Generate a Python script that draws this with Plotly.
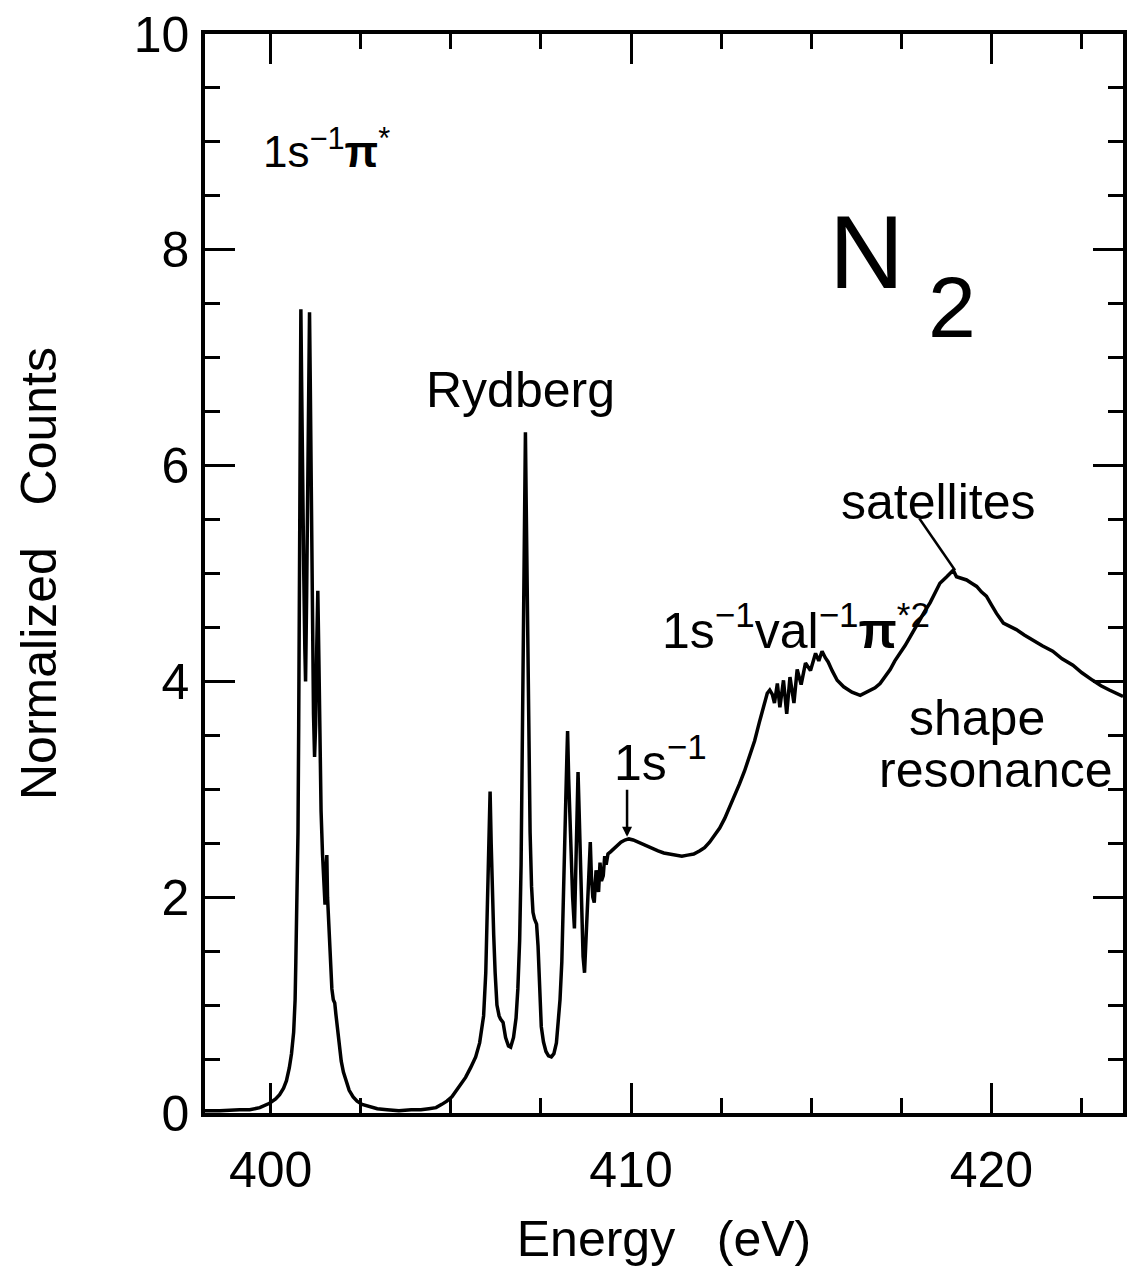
import plotly.graph_objects as go

# N2 K-edge photoabsorption spectrum: photon energy (eV) and normalized counts
energy_ev = [
    398.18, 398.59, 399.14, 399.42, 399.70, 399.97, 400.14, 400.25, 400.36, 400.44,
    400.52, 400.58, 400.64, 400.68, 400.70, 400.73, 400.76, 400.78, 400.80, 400.82,
    400.84, 400.86, 400.88, 400.89, 400.92, 400.95, 400.97, 401.00, 401.03, 401.05,
    401.08, 401.10, 401.13, 401.16, 401.19, 401.22, 401.25, 401.28, 401.31, 401.34,
    401.37, 401.40, 401.44, 401.48, 401.51, 401.53, 401.56, 401.58, 401.62, 401.66,
    401.70, 401.74, 401.78, 401.81, 401.85, 401.91, 401.96, 402.02, 402.10, 402.18,
    402.29, 402.40, 402.54, 402.73, 402.96, 403.23, 403.56, 403.90, 404.17, 404.39,
    404.59, 404.75, 404.89, 405.03, 405.22, 405.41, 405.55, 405.69, 405.80, 405.91,
    405.97, 406.01, 406.03, 406.07, 406.09, 406.12, 406.15, 406.19, 406.23, 406.28,
    406.34, 406.38, 406.45, 406.52, 406.60, 406.66, 406.74, 406.81, 406.86, 406.91,
    406.95, 406.98, 407.01, 407.03, 407.05, 407.07, 407.09, 407.11, 407.13, 407.17,
    407.20, 407.24, 407.28, 407.32, 407.38, 407.42, 407.46, 407.51, 407.57, 407.64,
    407.71, 407.79, 407.86, 407.93, 407.98, 408.03, 408.08, 408.12, 408.15, 408.19,
    408.22, 408.24, 408.27, 408.30, 408.34, 408.38, 408.43, 408.46, 408.50, 408.53,
    408.56, 408.60, 408.63, 408.67, 408.71, 408.74, 408.78, 408.83, 408.87, 408.90,
    408.94, 408.98, 409.03, 409.06, 409.10, 409.14, 409.18, 409.23, 409.27, 409.31,
    409.36, 409.43, 409.53, 409.61, 409.72, 409.83, 409.94, 410.06, 410.19, 410.33,
    410.47, 410.61, 410.75, 410.91, 411.08, 411.24, 411.41, 411.57, 411.74, 411.91,
    412.04, 412.18, 412.32, 412.46, 412.60, 412.73, 412.87, 413.01, 413.15, 413.29,
    413.43, 413.56, 413.69, 413.78, 413.85, 413.92, 413.98, 414.06, 414.13, 414.23,
    414.32, 414.41, 414.52, 414.61, 414.72, 414.84, 414.98, 415.12, 415.21, 415.30,
    415.39, 415.47, 415.58, 415.72, 415.90, 416.13, 416.36, 416.49, 416.64, 416.77,
    416.91, 417.04, 417.19, 417.32, 417.47, 417.60, 417.74, 417.87, 418.02, 418.15,
    418.30, 418.43, 418.57, 418.76, 418.94, 419.03, 419.12, 419.31, 419.45, 419.59,
    419.72, 419.86, 420.00, 420.14, 420.33, 420.50, 420.69, 420.91, 421.15, 421.41,
    421.70, 421.96, 422.26, 422.51, 422.81, 423.04, 423.27, 423.51, 423.65,
]

counts = [
    0.02, 0.02, 0.03, 0.03, 0.05, 0.09, 0.13, 0.17, 0.23, 0.30,
    0.42, 0.55, 0.75, 1.05, 1.40, 2.00, 2.60, 3.60, 5.00, 6.30,
    7.45, 6.80, 6.00, 5.90, 5.00, 4.30, 4.00, 4.80, 6.00, 7.00,
    7.42, 6.80, 5.60, 4.50, 3.70, 3.30, 3.60, 4.30, 4.84, 4.20,
    3.40, 2.80, 2.40, 2.05, 1.93, 2.20, 2.39, 2.00, 1.65, 1.35,
    1.15, 1.05, 1.02, 0.92, 0.78, 0.60, 0.48, 0.38, 0.28, 0.21,
    0.15, 0.11, 0.08, 0.06, 0.04, 0.03, 0.02, 0.03, 0.03, 0.04,
    0.05, 0.08, 0.11, 0.15, 0.24, 0.33, 0.42, 0.52, 0.65, 0.90,
    1.30, 1.80, 2.30, 2.72, 2.98, 2.50, 2.00, 1.65, 1.30, 1.00,
    0.90, 0.87, 0.84, 0.70, 0.62, 0.61, 0.70, 0.88, 1.15, 1.60,
    2.30, 3.30, 4.40, 5.30, 6.00, 6.31, 5.70, 5.00, 4.30, 3.30,
    2.60, 2.10, 1.86, 1.80, 1.75, 1.55, 1.10, 0.80, 0.66, 0.57,
    0.53, 0.52, 0.55, 0.65, 0.85, 1.05, 1.40, 1.86, 2.40, 2.90,
    3.30, 3.54, 3.10, 2.72, 2.35, 2.00, 1.71, 2.10, 2.60, 3.16,
    2.80, 2.20, 1.85, 1.45, 1.30, 1.55, 1.95, 2.35, 2.51, 2.20,
    2.00, 1.95, 2.25, 2.10, 2.05, 2.32, 2.15, 2.20, 2.38, 2.30,
    2.40, 2.42, 2.45, 2.47, 2.51, 2.53, 2.54, 2.53, 2.51, 2.49,
    2.47, 2.45, 2.43, 2.41, 2.40, 2.39, 2.38, 2.39, 2.40, 2.43,
    2.46, 2.51, 2.57, 2.64, 2.73, 2.83, 2.93, 3.05, 3.17, 3.30,
    3.45, 3.62, 3.80, 3.89, 3.92, 3.88, 3.80, 3.98, 3.76, 4.01,
    3.70, 4.04, 3.80, 4.11, 3.97, 4.17, 4.10, 4.26, 4.19, 4.28,
    4.22, 4.18, 4.10, 4.01, 3.95, 3.90, 3.87, 3.89, 3.92, 3.94,
    3.98, 4.04, 4.11, 4.19, 4.26, 4.33, 4.41, 4.49, 4.57, 4.65,
    4.73, 4.82, 4.91, 4.97, 5.03, 4.97, 4.96, 4.94, 4.91, 4.88,
    4.83, 4.79, 4.71, 4.63, 4.54, 4.51, 4.48, 4.43, 4.38, 4.33,
    4.28, 4.21, 4.15, 4.08, 4.01, 3.96, 3.92, 3.88, 3.86,
]

x_range = [398.18, 423.65]
y_range = [0, 10]

TEXT_FONT = "Liberation Sans, Arial, sans-serif"

fig = go.Figure()
fig.add_trace(go.Scatter(
    x=energy_ev, y=counts, mode="lines",
    line=dict(color="black", width=3.5),
    showlegend=False, hoverinfo="skip",
))

def label(text, x, y, size=50):
    fig.add_annotation(x=x, y=y, xref="x", yref="y", text=text, showarrow=False,
                       font=dict(family=TEXT_FONT, size=size, color="black"),
                       xanchor="center", yanchor="middle")

label("1s<sup>\u22121</sup><b>\u03c0</b><sup>*</sup>", 401.55, 8.94, size=44)
label("Rydberg", 406.93, 6.70)
label("1s<sup>\u22121</sup>", 410.83, 3.28)
label("1s<sup>\u22121</sup>val<sup>\u22121</sup><b>\u03c0</b><sup>*2</sup>", 414.59, 4.5)
label("satellites", 418.54, 5.66)
label("shape", 419.61, 3.66)
label("resonance", 420.14, 3.18)
label("N", 416.52, 7.98, size=104)
label("2", 418.90, 7.47, size=86)

# arrow marking the 1s ionization threshold
fig.add_annotation(x=409.89, y=2.56, ax=409.89, ay=3.01, xref="x", yref="y",
                   axref="x", ayref="y", text="", showarrow=True,
                   arrowhead=2, arrowsize=0.8, arrowwidth=2.5, arrowcolor="black")

# pointer from the "satellites" label to the peak
fig.add_shape(type="line", x0=418.00, y0=5.51, x1=418.99, y1=5.03,
              xref="x", yref="y", line=dict(color="black", width=2.5))

fig.update_xaxes(
    range=x_range, showline=True, linewidth=3.5, linecolor="black", mirror="ticks",
    ticks="inside", ticklen=30, tickwidth=3, tickcolor="black",
    tick0=400, dtick=10, showgrid=False, zeroline=False,
    minor=dict(ticks="inside", ticklen=15, tickwidth=3, tickcolor="black",
               tick0=400, dtick=2.5, showgrid=False),
    tickfont=dict(family=TEXT_FONT, size=50, color="black"),
    ticklabelstandoff=10,
    title=dict(text="Energy\u00a0\u00a0 (eV)", standoff=30,
               font=dict(family=TEXT_FONT, size=50, color="black")),
)
fig.update_yaxes(
    range=y_range, showline=True, linewidth=3.5, linecolor="black", mirror="ticks",
    ticks="inside", ticklen=30, tickwidth=3, tickcolor="black",
    tick0=0, dtick=2, showgrid=False, zeroline=False,
    minor=dict(ticks="inside", ticklen=15, tickwidth=3, tickcolor="black",
               tick0=0, dtick=0.5, showgrid=False),
    tickfont=dict(family=TEXT_FONT, size=50, color="black"),
    ticklabelstandoff=2,
    title=dict(text="Normalized\u00a0\u00a0 Counts", standoff=62,
               font=dict(family=TEXT_FONT, size=50, color="black")),
)

fig.update_layout(
    width=1130, height=1267,
    margin=dict(l=205, r=3, t=34, b=154, pad=0),
    paper_bgcolor="white", plot_bgcolor="white",
)

fig.write_html("out.html")
